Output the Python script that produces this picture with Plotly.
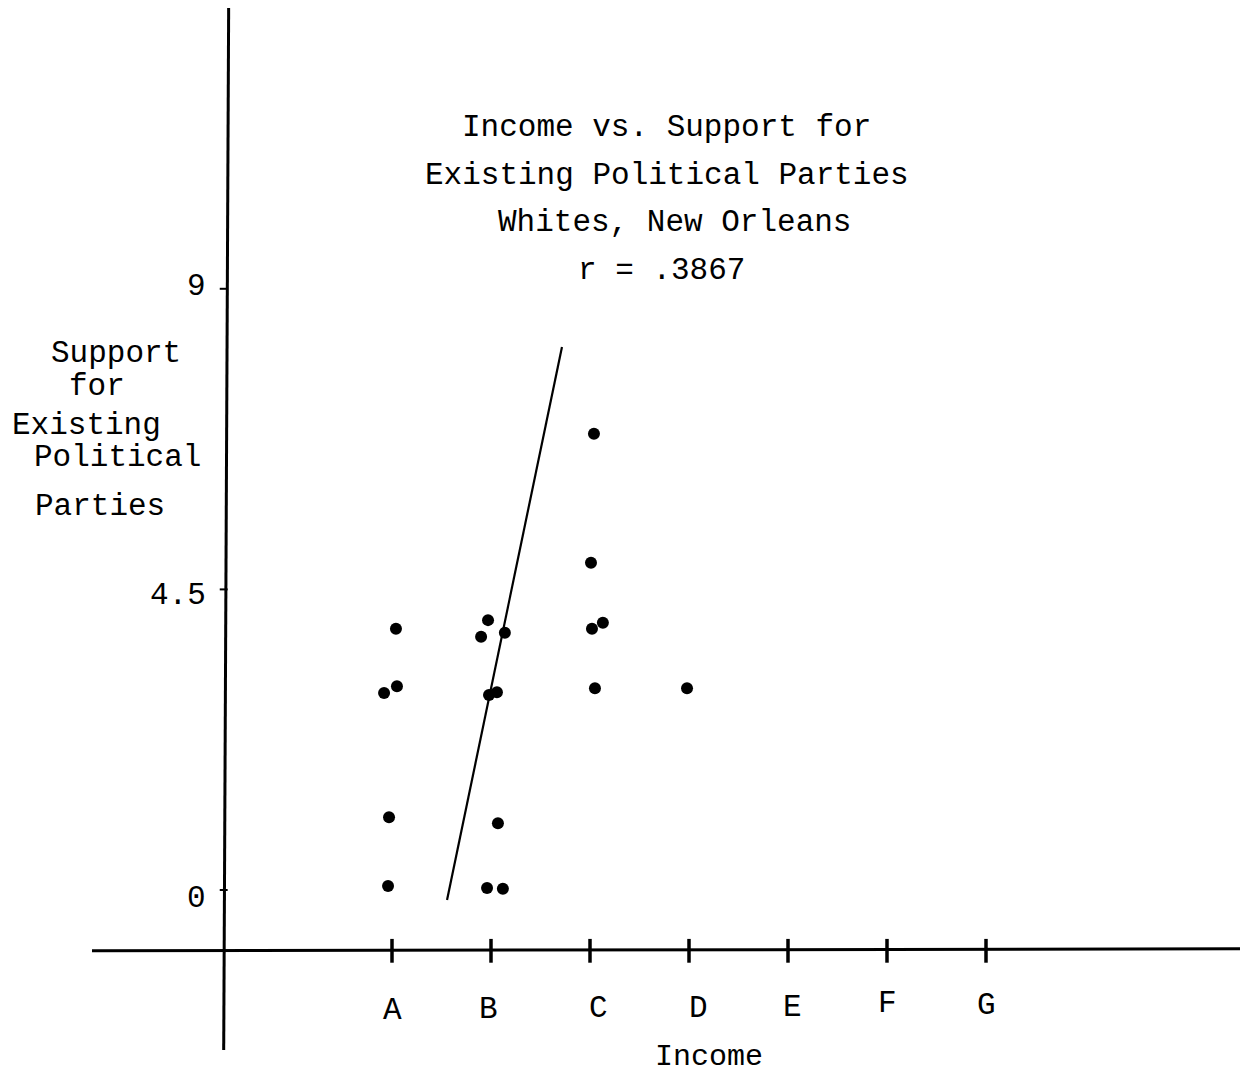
import plotly.graph_objects as go

# Income categories (A..G placed at 1..7 on the x scale)
income_labels = ["A", "B", "C", "D", "E", "F", "G"]
income_pos = [1, 2, 3, 4, 5, 6, 7]

# Support scores per respondent; x carries the small typed offset of each dot
resp_x = [1.04, 0.92, 1.05, 0.97, 0.96,
          1.97, 1.90, 2.14, 1.98, 2.06, 2.07, 1.96, 2.12,
          3.04, 3.01, 3.02, 3.13, 3.05,
          3.98]
resp_y = [3.91, 2.95, 3.05, 1.09, 0.06,
          4.04, 3.79, 3.85, 2.92, 2.96, 1.00, 0.03, 0.02,
          6.83, 4.90, 3.91, 4.00, 3.02,
          3.02]

# Fitted line end points
fit_x = [1.556, 2.717]
fit_y = [-0.15, 8.13]

y_ticks = [0, 4.5, 9]
y_tick_text = ["0", "4.5", "9"]

title_lines = ["Income vs. Support for", "Existing Political Parties",
               "Whites, New Orleans", "r = .3867"]
ylabel_lines = ["Support", "for", "Existing", "Political", "Parties"]
xlabel = "Income"

W, H = 1240, 1078
FONT = "Liberation Mono, Courier New, monospace"
X_RANGE = [-2.9596, 9.5657]
Y_RANGE = [-2.814, 13.323]
Y_AXIS_X = -0.66      # where the vertical axis crosses
X_AXIS_Y = -0.91      # where the horizontal axis crosses


def px(x):
    return x / W


def py(y):
    return 1 - y / H


fig = go.Figure()

# fitted line
fig.add_trace(go.Scatter(x=fit_x, y=fit_y, mode="lines",
                         line=dict(color="black", width=2.2),
                         hoverinfo="skip", showlegend=False))

# respondents
fig.add_trace(go.Scatter(x=resp_x, y=resp_y, mode="markers",
                         marker=dict(color="black", size=12,
                                     line=dict(width=0)),
                         showlegend=False))

# x tick marks across the horizontal axis
fig.add_trace(go.Scatter(x=income_pos, y=[X_AXIS_Y] * len(income_pos),
                         mode="markers",
                         marker=dict(symbol="line-ns", size=17,
                                     line=dict(color="black", width=3.5)),
                         hoverinfo="skip", showlegend=False))

shapes = []
# vertical axis (slightly skewed like the typed original)
shapes.append(dict(type="line", xref="x", yref="paper",
                   x0=Y_AXIS_X + 0.01, x1=Y_AXIS_X - 0.04,
                   y0=py(8), y1=py(1050),
                   line=dict(color="black", width=3)))
# horizontal axis
shapes.append(dict(type="line", xref="paper", yref="y",
                   x0=px(92), x1=1.0, y0=X_AXIS_Y, y1=X_AXIS_Y + 0.03,
                   line=dict(color="black", width=3)))
# y tick marks
for v in y_ticks:
    shapes.append(dict(type="line", xref="x", yref="y",
                       x0=Y_AXIS_X - 0.08, x1=Y_AXIS_X, y0=v, y1=v,
                       line=dict(color="black", width=2)))

annotations = []
# title block
for txt, yy, xx in zip(title_lines, [128, 175, 222, 270], [666, 667, 674, 662]):
    annotations.append(dict(text=txt, x=px(xx), y=py(yy), xref="paper",
                            yref="paper", showarrow=False,
                            xanchor="center", yanchor="middle",
                            font=dict(family=FONT, size=31, color="black")))
# y axis title lines
for txt, yy, xx in zip(ylabel_lines, [353, 386, 425, 458, 506],
                       [116, 97, 86, 117, 100]):
    annotations.append(dict(text=txt, x=px(xx), y=py(yy), xref="paper",
                            yref="paper", showarrow=False,
                            xanchor="center", yanchor="middle",
                            font=dict(family=FONT, size=31, color="black")))
# y tick labels (small vertical nudges follow the typed labels)
y_label_nudge = [-0.12, -0.09, 0.03]
for v, t, dv in zip(y_ticks, y_tick_text, y_label_nudge):
    annotations.append(dict(text=t, x=Y_AXIS_X - 0.2, y=v + dv,
                            xref="x", yref="y", showarrow=False,
                            xanchor="right", yanchor="middle",
                            font=dict(family=FONT, size=31, color="black")))
# x tick labels
x_label_shift = [0.0, -0.03, 0.09, 0.1, 0.05, 0.0, 0.0]
x_label_y = [1010, 1009, 1008, 1008, 1007, 1003, 1005]
for p, t, dx, yy in zip(income_pos, income_labels, x_label_shift, x_label_y):
    annotations.append(dict(text=t, x=p + dx, y=py(yy), xref="x",
                            yref="paper", showarrow=False,
                            xanchor="center", yanchor="middle",
                            font=dict(family=FONT, size=31, color="black")))
# x axis title
annotations.append(dict(text=xlabel, x=px(709), y=py(1057), xref="paper",
                        yref="paper", showarrow=False,
                        xanchor="center", yanchor="middle",
                        font=dict(family=FONT, size=30, color="black")))

fig.update_layout(
    width=W, height=H,
    margin=dict(l=0, r=0, t=0, b=0),
    paper_bgcolor="white", plot_bgcolor="white",
    xaxis=dict(range=X_RANGE, visible=False, fixedrange=True),
    yaxis=dict(range=Y_RANGE, visible=False, fixedrange=True),
    shapes=shapes, annotations=annotations,
    showlegend=False,
)

fig.write_html("out.html")
